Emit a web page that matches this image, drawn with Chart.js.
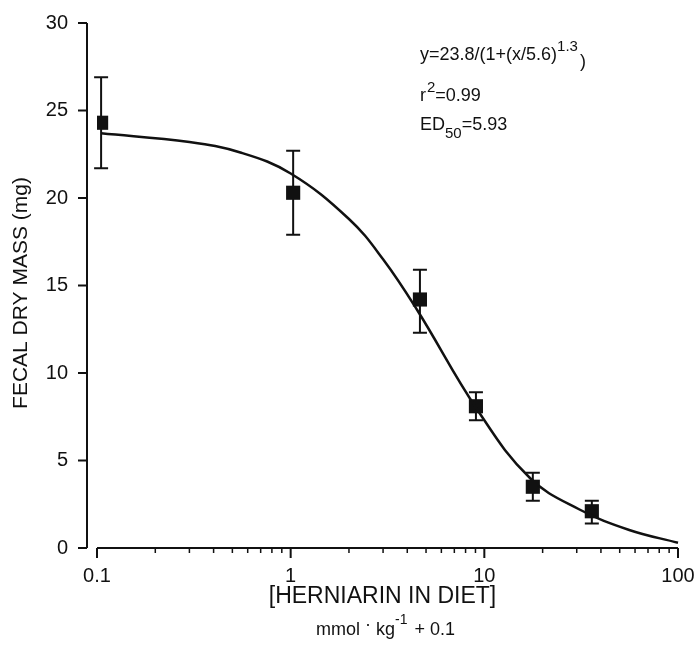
<!DOCTYPE html>
<html>
<head>
<meta charset="utf-8">
<script src="https://cdn.jsdelivr.net/npm/chart.js@4.4.1/dist/chart.umd.min.js"></script>
<style>
  body { margin: 0; background: #fff; }
  canvas { display: block; }
</style>
</head>
<body>
<canvas id="chart" width="696" height="646"></canvas>
<script>
// Data
const concentration = [0.105, 1.03, 4.65, 9.05, 17.8, 35.9];   // mmol/kg + 0.1
const fecalMass = [24.3, 20.3, 14.2, 8.1, 3.5, 2.1];           // mg
const errLow = [21.7, 17.9, 12.3, 7.3, 2.7, 1.4];
const errHigh = [26.9, 22.7, 15.9, 8.9, 4.3, 2.7];

// fitted curve
const curveX = [0.105, 0.3, 0.55, 1.0, 2.0, 3.0, 4.5, 9.2, 17.2, 31, 56, 100];
const curveY = [23.7, 23.2, 22.6, 21.4, 18.8, 16.5, 13.6, 7.9, 4.0, 2.2, 1.03, 0.3];

const xTicks = [0.1, 1, 10, 100];
const yTicks = [0, 5, 10, 15, 20, 25, 30];

const FONT = '"Liberation Sans", Arial, sans-serif';
const INK = '#111';

// White background
const bgPlugin = {
    id: 'bg',
    beforeDraw(chart) {
        const ctx = chart.ctx;
        ctx.save();
        ctx.fillStyle = '#fff';
        ctx.fillRect(0, 0, chart.width, chart.height);
        ctx.restore();
    }
};

// Error bars with caps
const errorBars = {
    id: 'errorBars',
    beforeDatasetsDraw(chart) {
        const { ctx, scales: { x, y } } = chart;
        ctx.save();
        ctx.strokeStyle = INK;
        ctx.lineWidth = 2;
        concentration.forEach((c, i) => {
            const px = x.getPixelForValue(c);
            const top = y.getPixelForValue(errHigh[i]);
            const bot = y.getPixelForValue(errLow[i]);
            ctx.beginPath();
            ctx.moveTo(px, top); ctx.lineTo(px, bot);
            ctx.moveTo(px - 7, top); ctx.lineTo(px + 7, top);
            ctx.moveTo(px - 7, bot); ctx.lineTo(px + 7, bot);
            ctx.stroke();
        });
        ctx.restore();
    }
};

// Detached axes like the original figure
const axesPlugin = {
    id: 'axes',
    afterDraw(chart) {
        const { ctx, chartArea, scales: { x, y } } = chart;
        ctx.save();
        ctx.strokeStyle = INK;
        ctx.lineWidth = 2;
        // y axis, set off to the left
        const ax = chartArea.left - 10;
        ctx.beginPath();
        ctx.moveTo(ax, y.getPixelForValue(30));
        ctx.lineTo(ax, y.getPixelForValue(0));
        yTicks.forEach(v => {
            const py = y.getPixelForValue(v);
            ctx.moveTo(ax - 9, py); ctx.lineTo(ax, py);
        });
        ctx.stroke();
        // x axis
        const ay = chartArea.bottom;
        ctx.beginPath();
        ctx.moveTo(x.getPixelForValue(0.1), ay);
        ctx.lineTo(x.getPixelForValue(100), ay);
        xTicks.forEach(v => {
            const px = x.getPixelForValue(v);
            ctx.moveTo(px, ay); ctx.lineTo(px, ay + 10);
        });
        ctx.stroke();
        ctx.lineWidth = 1.5;
        ctx.beginPath();
        [0.1, 1, 10].forEach(d => {
            for (let m = 2; m <= 9; m++) {
                const px = x.getPixelForValue(d * m);
                ctx.moveTo(px, ay); ctx.lineTo(px, ay + 5);
            }
        });
        ctx.stroke();
        ctx.restore();
    }
};

// Axis titles and fit annotation
function drawRuns(ctx, runs, x, y) {
    runs.forEach(r => {
        ctx.font = r.size + 'px ' + FONT;
        ctx.fillText(r.text, x, y + (r.dy || 0));
        x += ctx.measureText(r.text).width + (r.gap || 0);
    });
    return x;
}
function runsWidth(ctx, runs) {
    let w = 0;
    runs.forEach(r => {
        ctx.font = r.size + 'px ' + FONT;
        w += ctx.measureText(r.text).width + (r.gap || 0);
    });
    return w;
}

const textPlugin = {
    id: 'texts',
    afterDraw(chart) {
        const { ctx, chartArea } = chart;
        ctx.save();
        ctx.fillStyle = INK;
        ctx.textBaseline = 'alphabetic';
        ctx.textAlign = 'left';

        // fit annotation
        drawRuns(ctx, [
            { text: 'y=23.8/(1+(x/5.6)', size: 18 },
            { text: '1.3', size: 15, dy: -9, gap: 2 },
            { text: ')', size: 18, dy: 7 }
        ], 420, 60);
        drawRuns(ctx, [
            { text: 'r', size: 18, gap: 1 },
            { text: '2', size: 15, dy: -9 },
            { text: '=0.99', size: 18 }
        ], 420, 101);
        drawRuns(ctx, [
            { text: 'ED', size: 18 },
            { text: '50', size: 15, dy: 8 },
            { text: '=5.93', size: 18 }
        ], 420, 130);

        // x axis title
        const cx = (chartArea.left + chartArea.right) / 2 - 5;
        ctx.textAlign = 'center';
        ctx.font = '23px ' + FONT;
        ctx.fillText('[HERNIARIN IN DIET]', cx, 603);
        ctx.textAlign = 'left';
        const unit = [
            { text: 'mmol ', size: 18 },
            { text: '·', size: 18, dy: -5 },
            { text: ' kg', size: 18 },
            { text: '-1', size: 14, dy: -11, gap: 2 },
            { text: ' + 0.1', size: 18 }
        ];
        drawRuns(ctx, unit, cx + 3 - runsWidth(ctx, unit) / 2, 635);

        // y axis title
        ctx.translate(27, 293);
        ctx.rotate(-Math.PI / 2);
        ctx.textAlign = 'center';
        ctx.font = '21px ' + FONT;
        ctx.fillText('FECAL DRY MASS (mg)', 0, 0);
        ctx.restore();
    }
};

const ctx = document.getElementById('chart').getContext('2d');
new Chart(ctx, {
    type: 'scatter',
    data: {
        datasets: [
            {
                label: 'fit',
                type: 'line',
                data: curveX.map((x, i) => ({ x, y: curveY[i] })),
                borderColor: INK,
                borderWidth: 2.5,
                pointRadius: 0,
                tension: 0.4,
                fill: false,
                clip: 4
            },
            {
                label: 'fecal dry mass',
                data: concentration.map((x, i) => ({ x, y: fecalMass[i] })),
                pointStyle: 'rect',
                pointRadius: 10,
                backgroundColor: INK,
                borderColor: INK,
                borderWidth: 0
            }
        ]
    },
    options: {
        responsive: false,
        animation: false,
        layout: { padding: { top: 23, right: 18, left: 0, bottom: 0 } },
        plugins: { legend: { display: false }, tooltip: { enabled: false } },
        scales: {
            x: {
                type: 'logarithmic',
                min: 0.1,
                max: 100,
                afterBuildTicks: s => { s.ticks = xTicks.map(v => ({ value: v, major: true })); },
                afterFit: s => { s.height = 98; s.paddingLeft = 0; s.paddingRight = 0; },
                ticks: {
                    callback: v => String(v),
                    font: { family: FONT, size: 20 },
                    color: INK,
                    padding: 8,
                    maxRotation: 0,
                    autoSkip: false
                },
                grid: { display: false },
                border: { display: false }
            },
            y: {
                min: 0,
                max: 30,
                afterBuildTicks: s => { s.ticks = yTicks.map(v => ({ value: v })); },
                afterFit: s => { s.width = 97; s.paddingTop = 0; s.paddingBottom = 0; },
                ticks: {
                    font: { family: FONT, size: 20 },
                    color: INK,
                    padding: 21
                },
                grid: { display: false },
                border: { display: false }
            }
        }
    },
    plugins: [bgPlugin, errorBars, axesPlugin, textPlugin]
});
</script>
</body>
</html>
